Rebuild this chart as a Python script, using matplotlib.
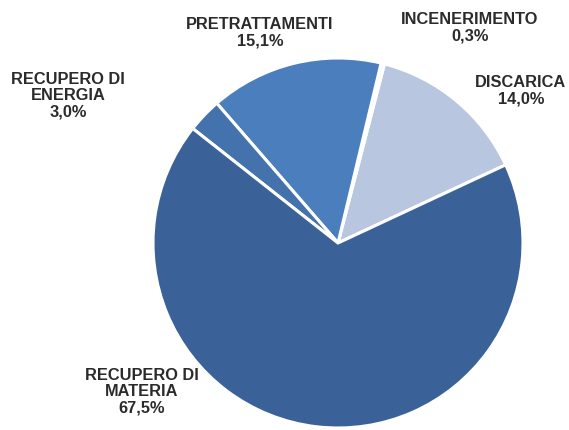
import matplotlib.pyplot as plt

# Data (counter-clockwise from the right)
categories = ['DISCARICA', 'INCENERIMENTO', 'PRETRATTAMENTI',
              'RECUPERO DI\nENERGIA', 'RECUPERO DI\nMATERIA']
shares = [14.0, 0.3, 15.1, 3.0, 67.5]
colors = ['#b8c6e0', '#d3ddef', '#4a7ebc', '#4372ad', '#3b6298']

W, H = 569, 430
fig = plt.figure(figsize=(W / 100, H / 100), dpi=100)
fig.patch.set_facecolor('white')

# pie centre and radius in pixels
cx, cy, r = 338, 243, 185
ax = fig.add_axes([(cx - r) / W, (H - cy - r) / H, 2 * r / W, 2 * r / H])
ax.pie(shares, colors=colors, startangle=25, counterclock=True,
       wedgeprops=dict(edgecolor='white', linewidth=2.2), radius=1)
ax.set_xlim(-1, 1)
ax.set_ylim(-1, 1)
ax.axis('off')

# label positions (pixel centres of each text block)
label_pos = [(521, 91), (470, 28), (260, 33), (68, 96), (142, 392)]
for name, val, (px, py) in zip(categories, shares, label_pos):
    txt = f"{name}\n{val:.1f}%".replace('.', ',')
    fig.text(px / W, 1 - py / H, txt, ha='center', va='center',
             fontsize=11.8, fontweight='bold', family='Liberation Sans',
             color='#2b2b2b', linespacing=1.1)

fig.savefig('out.png', dpi=100)
